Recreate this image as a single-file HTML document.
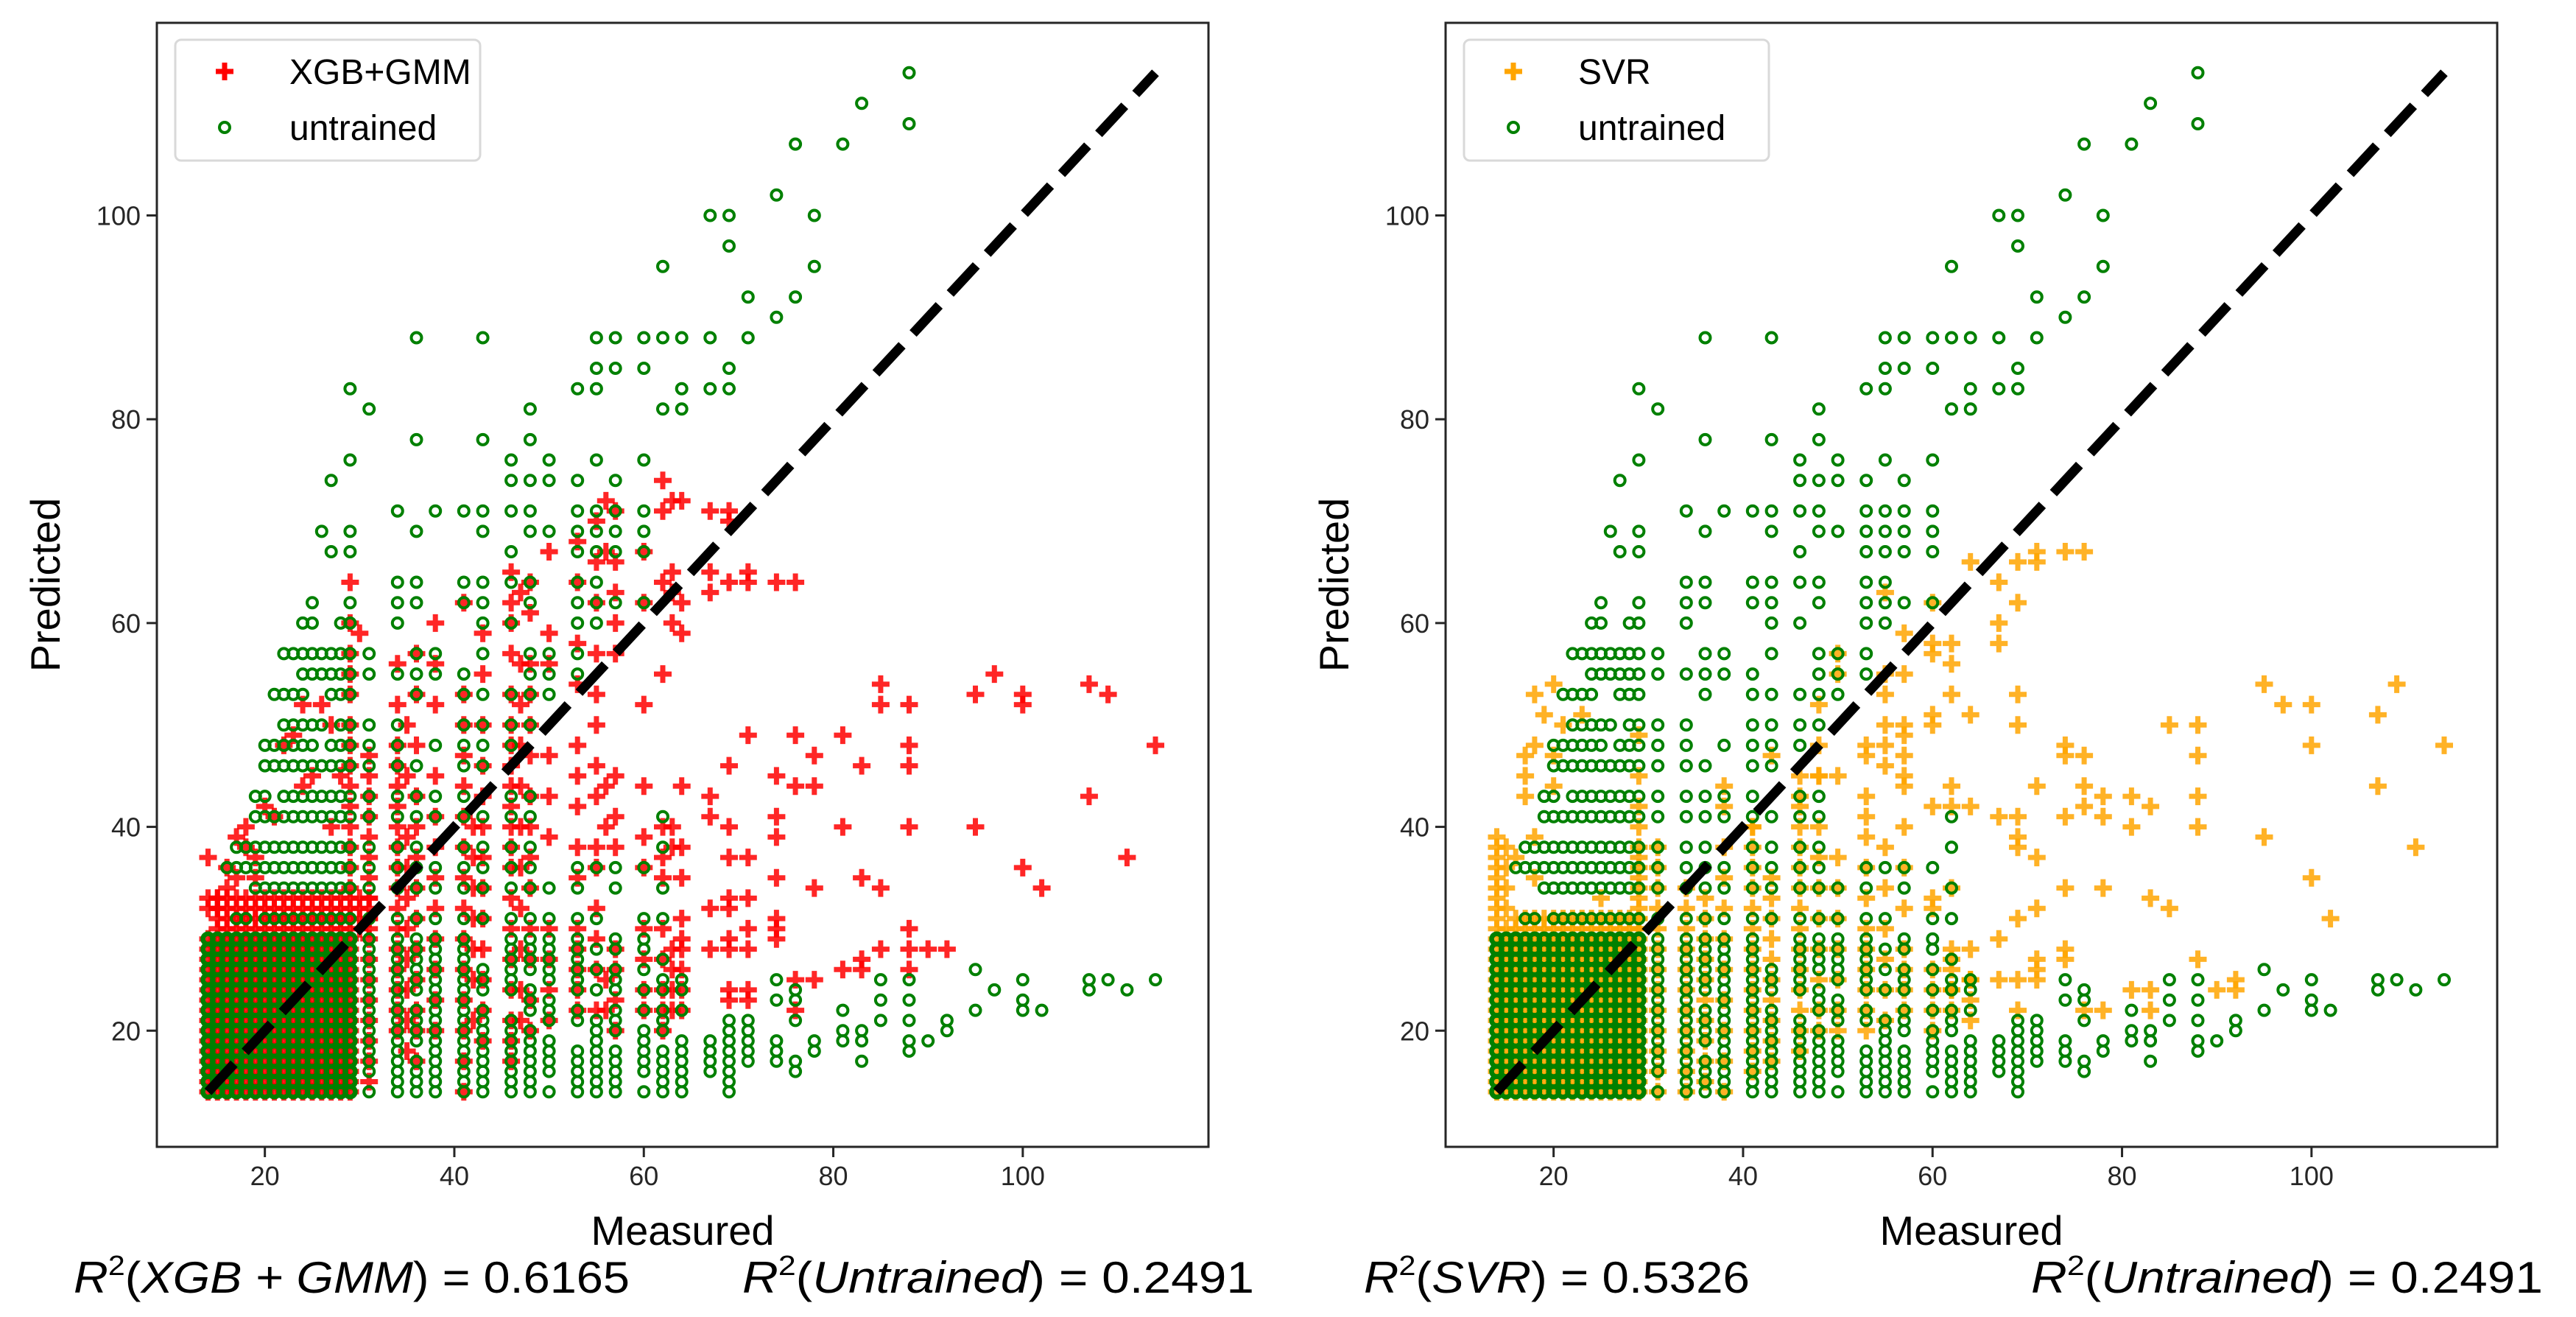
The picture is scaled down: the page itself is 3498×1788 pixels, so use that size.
<!DOCTYPE html>
<html><head><meta charset="utf-8"><style>
html,body{margin:0;padding:0;background:#fff;}
svg{display:block;font-family:"Liberation Sans","DejaVu Sans",sans-serif;}
</style></head><body>
<svg id="fig" width="3498" height="1788" viewBox="0 0 3498 1788" xmlns="http://www.w3.org/2000/svg">
<defs>
<clipPath id="clipL"><rect x="213" y="31" width="1428" height="1526"/></clipPath>
<clipPath id="clipR"><rect x="1963" y="31" width="1428" height="1526"/></clipPath>
</defs>
<g id="panelL"></g>
<g id="panelR"></g>
</svg>
<script>
// ---- data ----
const tickVals = [20, 40, 60, 80, 100];
const blockVals = [14,15,16,17,18,19,20,21,22,23,24,25,26,27,28,29];
const redBandYs = [30,31,32,33];
const redBandXs = [15,16,17,18,19,20,21,22,23,24,25,26,27,28,29,30,31];
const svrBandYs = [30,31];
const svrBandXs = [16,17,18,19,20,21,22,23,24,25,26,27,28,29];
// untrained: rows above block (y -> xs)
const untrainedUpRows = [
[31,[17,18,20,21,22,23,24,25,26,27,28,29,31,34,36,38,41,43,46,48,50,53,55,60,62]],
[34,[19,20,21,22,23,24,25,26,27,28,29,31,34,36,38,41,43,46,48,50,53,57,62]],
[36,[16,17,18,19,20,21,22,23,24,25,26,27,28,29,31,34,36,38,41,43,46,48,53,55,57,60]],
[38,[17,18,19,20,21,22,23,24,25,26,27,28,29,31,34,36,41,43,46,48,62]],
[41,[19,20,21,22,23,24,25,26,27,28,29,31,34,36,38,41,43,46,48,62]],
[43,[19,20,22,23,24,25,26,27,28,29,31,34,36,38,41,46,48]],
[46,[20,21,22,23,24,25,26,27,28,29,31,34,36,41,43]],
[48,[20,21,22,23,24,25,27,28,29,31,34,38,41,43,46]],
[50,[22,23,24,25,26,28,29,31,34,41,43,46,48]],
[53,[21,22,23,24,27,28,29,36,41,43,46,48,50]],
[55,[24,25,26,27,28,29,31,34,36,38,41,48,50,53]],
[57,[22,23,24,25,26,27,28,29,31,36,38,43,48,50,53]],
[60,[24,25,28,29,34,43,46,53,55]],
[62,[25,29,34,36,41,43,48,53,55,57,60]],
[64,[34,36,41,43,46,48,53,55]],
[67,[27,29,46,53,55,57,60]],
[69,[26,29,36,43,48,50,53,55,57,60]],
[71,[34,38,41,43,46,48,53,55,57,60]],
[74,[27,46,48,50,53,57]],
[76,[29,46,50,55,60]],
[78,[36,43,48]],
[81,[31,48,62,64]],
[83,[29,53,55,64,67,69]],
[85,[55,57,60,69]],
[88,[36,43,55,57,60,62,64,67,71]],
[90,[74]],[92,[71,76]],[95,[62,78]],[97,[69]],[100,[67,69,78]],
[102,[74]],[107,[76,81]],[109,[88]],[111,[83]],[114,[88]]
];
// untrained: columns below y=30 for x>=31 (x -> ys)
const untrainedLowCols = [
[31,[14,16,17,18,19,20,21,22,23,24,25,26,27,28,29]],
[34,[14,15,16,17,18,19,20,21,22,23,24,25,26,27,28,29]],
[36,[14,15,16,17,19,20,21,22,24,25,26,27,28,29]],
[38,[14,15,16,17,18,19,20,21,22,23,24,25,26,27,28,29]],
[41,[14,15,16,17,18,19,20,21,22,23,24,25,26,27,28,29]],
[43,[14,15,16,17,18,19,20,21,22,24,25,26]],
[46,[14,15,16,17,18,19,20,21,24,25,26,27,28,29]],
[48,[14,15,16,17,18,19,20,22,23,24,26,27,28,29]],
[50,[14,16,17,18,19,21,22,23,25,26,27,28,29]],
[53,[14,15,16,17,18,21,22,24,25,26,27,28,29]],
[55,[14,15,16,17,18,19,20,21,24,26,28]],
[57,[14,15,16,17,18,20,21,22,24,25,26,28,29]],
[60,[14,16,17,18,19,20,22,24,26,28,29]],
[62,[14,15,16,17,18,20,21,22,24,25,27]],
[64,[14,15,16,17,18,19,22,24,25]],
[67,[16,17,18,19]],
[69,[14,15,16,17,18,19,20,21]],
[71,[17,18,19,20,21]],
[74,[17,18,19,23,25]],
[76,[16,17,21,23,24]],
[78,[18,19]],[81,[19,20,22]],[83,[17,19,20]],[85,[21,23,25]],
[88,[18,19,21,23,25]],[90,[19]],[92,[20,21]],[95,[22,26]],[97,[24]],
[100,[22,23,25]],[102,[22]],[107,[24,25]],[109,[25]],[111,[24]],[114,[25]]
];
// XGB+GMM predictions
const xgbCols = [
[29,[34,36,38,40,42,44,46,48,50,53,55,57]],
[31,[15,17,19,21,23,25,27,29,31,33,35,37,39,41,43,45,47]],
[34,[20,22,24,26,28,30,32,34,36,38,40,42,44,46,48,52,56]],
[35,[18,21,24,27,30,33,36,39,45,50]],
[36,[17,20,22,25,28,31,34,37,40,43,48,53,57]],
[38,[20,23,26,29,32,35,38,41,45,52,56,60]],
[41,[14,17,20,23,26,29,32,35,38,41,44,47,50,53,62]],
[42,[21,25,28,31,34,37,40]],
[43,[19,22,25,28,31,34,37,40,43,46,50,55,59]],
[46,[17,19,21,24,27,30,33,36,38,40,42,44,46,48,50,53,57,60,62,65]],
[47,[21,24,28,32,36,40,44,48,52,56,63]],
[48,[20,23,27,30,34,37,40,43,47,50,53,56,61,64]],
[50,[21,24,27,30,39,43,47,56,59,67]],
[53,[22,24,26,28,30,35,38,42,45,48,54,58,64,68]],
[55,[22,26,29,32,36,38,43,46,50,53,57,62,66,70]],
[56,[22,25,40,44,67,72]],
[57,[20,23,26,28,38,41,45,57,60,63,66,71]],
[60,[22,24,27,30,36,39,44,52,62,67]],
[62,[20,22,24,27,30,35,37,40,55,64,71,74]],
[63,[22,24,26,28,38,40,60,63,65,72]],
[64,[22,24,26,28,29,31,35,38,44,59,62,72]]
];
const xgbPts = [
[14,37],[14,33],[14,32],[15,32],[15,33],[16,36],[16,34],[17,35],[17,39],[18,40],[18,38],[19,37],[19,35],
[20,42],[21,41],[22,48],[23,49],[24,44],[24,52],[25,45],[26,52],[27,50],[27,40],[28,45],[29,64],[29,60],[30,59],
[67,71],[69,71],[69,70],[67,65],[69,64],[71,65],[71,64],[74,64],[76,64],[67,63],
[85,54],[85,52],[88,52],[95,53],[97,55],[100,53],[100,52],[107,54],[109,53],[114,48],
[71,49],[76,49],[81,49],[78,47],[78,44],[83,46],[88,48],[88,46],[69,46],[74,45],[76,44],[67,43],[67,41],
[74,41],[74,39],[69,40],[81,40],[88,40],[95,40],[107,43],[69,37],[71,37],[111,37],[100,36],[102,34],
[74,35],[78,34],[83,35],[85,34],[67,32],[69,33],[69,32],[71,33],[74,31],[74,30],[74,29],[88,30],
[67,28],[69,29],[69,28],[71,30],[71,28],[85,28],[88,28],[88,26],[90,28],[92,28],[81,26],[83,27],[83,26],
[78,25],[76,25],[76,22],[69,24],[69,23],[71,24],[71,23]
];
// SVR predictions
const svrCols = [
[14,[30,31,32,33,34,35,36,37,38,39]],
[15,[30,32,34,36,38]],
[29,[30,31,32,33,34,35,36,37,38,40,42,45]],
[31,[14,16,18,20,22,24,26,28,30,32,34,36,38]],
[34,[14,16,18,20,22,24,26,28,30,32,34]],
[36,[15,17,19,21,23,25,27,29,31,33]],
[38,[14,17,20,23,26,29,32,35,38]],
[41,[16,18,20,22,24,26,28,30,32,34,36,38,40]],
[43,[17,19,21,23,25,27,29,31,33,35]],
[46,[18,20,22,24,26,28,30,32,34,36,38,40,42]],
[48,[20,22,25,28,31,34,37,40,45]],
[50,[20,22,25,28,31,34,37]],
[53,[20,22,24,26,28,30,33,36,39]],
[55,[21,24,27,30,34,38]],
[57,[22,24,26,28,32,36,40]],
[60,[20,22,24,26]],
[62,[22,24,26,28]],
[64,[21,23,25]]
];
const svrPts = [
[18,53],[20,54],[19,51],[23,51],[21,50],[18,48],[20,47],[17,47],[17,45],[20,44],[17,43],[18,39],[16,37],[18,35],[25,33],
[29,49],[64,66],[69,66],[71,67],[71,66],[74,67],[76,67],[67,64],[69,62],[55,63],[60,62],[57,59],[60,58],[62,58],[60,57],
[67,60],[67,58],[62,56],[50,57],[50,55],[55,55],[57,55],[55,53],[62,53],[69,53],[64,51],[55,50],[57,50],[60,51],[60,50],
[69,50],[53,48],[53,47],[55,48],[57,49],[57,47],[57,45],[55,46],[57,44],[48,52],[48,48],[50,45],[43,47],[46,45],[46,43],
[48,45],[38,44],[38,42],[41,40],[62,44],[60,42],[62,42],[64,42],[53,43],[53,41],[67,41],[69,41],[69,39],[69,38],[71,44],[71,37],
[74,48],[74,47],[76,47],[76,44],[76,42],[78,43],[78,41],[81,43],[83,42],[81,40],[74,41],[88,43],[88,40],[85,50],[88,50],[88,47],
[95,54],[97,52],[100,52],[100,48],[107,51],[109,54],[107,44],[114,48],[95,39],[111,38],[100,35],[102,31],
[74,34],[78,34],[83,33],[85,32],[69,31],[71,32],[60,33],[62,34],[60,32],[67,29],[64,28],[62,27],[74,28],[74,27],[71,27],[71,26],
[88,27],[92,25],[92,24],[90,24],[69,25],[67,25],[71,25],[69,22],[76,22],[78,22],[81,24],[83,24],[83,22],[64,25],[62,24]
];
const diagLine = [14, 114];

// ---- drawing ----
const NS = 'http://www.w3.org/2000/svg';
const XMIN = 8.6, XMAX = 119.6, YMIN = 8.6, YMAX = 118.9;
function mk(tag, attrs, parent){ const e = document.createElementNS(NS, tag); for (const k in attrs) e.setAttribute(k, attrs[k]); parent.appendChild(e); return e; }
const PLUS = 'M-12,-3.5h24v7h-24z M-3.5,-12h7v24h-7z';

function drawPanel(g, left, clipId, color, predCols, predPts, bandYs, bandXs, modelName, r2Model, r2Untrained, r2ModelLen, r2ModelX) {
  const right = left + 1428, top = 31, bottom = 1557;
  const sx = v => left + (v - XMIN) / (XMAX - XMIN) * (right - left);
  const sy = v => bottom - (v - YMIN) / (YMAX - YMIN) * (bottom - top);
  const data = mk('g', {'clip-path': 'url(#' + clipId + ')'}, g);
  
  
  const predG = mk('g', {fill: color, 'fill-opacity': '0.85'}, data);
  
  
  const addPlus = (x, y) => {
    const p = mk('path', {d: PLUS, transform: 'translate(' + sx(x).toFixed(1) + ',' + sy(y).toFixed(1) + ')'}, predG);
    
    
  };
  blockVals.forEach(x => blockVals.forEach(y => addPlus(x, y)));
  bandYs.forEach(y => bandXs.forEach(x => addPlus(x, y)));
  predCols.forEach(c => c[1].forEach(y => addPlus(c[0], y)));
  predPts.forEach(p => addPlus(p[0], p[1]));
  const untG = mk('g', {fill: 'none', stroke: '#008000', 'stroke-width': '4'}, data);
  
  
  const addCirc = (x, y, w) => {
    const c = mk('circle', {cx: sx(x).toFixed(1), cy: sy(y).toFixed(1), r: 7}, untG);
    if (w) c.setAttribute('stroke-width', w);
    
    
  };
  blockVals.forEach(x => blockVals.forEach(y => addCirc(x, y, 6.5)));
  untrainedUpRows.forEach(r => r[1].forEach(x => addCirc(x, r[0])));
  untrainedLowCols.forEach(c => c[1].forEach(y => addCirc(c[0], y)));
  const dl = mk('line', {x1: sx(diagLine[0]), y1: sy(diagLine[0]), x2: sx(diagLine[1]), y2: sy(diagLine[1]), stroke: '#000', 'stroke-width': 13, 'stroke-dasharray': '52 22'}, data);
  
  
  const fr = mk('rect', {x: left, y: top, width: right - left, height: bottom - top, fill: 'none', stroke: '#262626', 'stroke-width': 3}, g);
  
  
  tickVals.forEach(v => {
    const xt = mk('line', {x1: sx(v), y1: bottom, x2: sx(v), y2: bottom + 14, stroke: '#262626', 'stroke-width': 3}, g);
    
    
    const xl = mk('text', {x: sx(v), y: bottom + 52, 'text-anchor': 'middle', 'font-size': 36, fill: '#262626'}, g);
    xl.textContent = v;
    
    
    const yt = mk('line', {x1: left - 14, y1: sy(v), x2: left, y2: sy(v), stroke: '#262626', 'stroke-width': 3}, g);
    
    
    const yl = mk('text', {x: left - 22, y: sy(v) + 13, 'text-anchor': 'end', 'font-size': 36, fill: '#262626'}, g);
    yl.textContent = v;
    
    
  });
  const xt = mk('text', {x: (left + right) / 2, y: 1690, 'text-anchor': 'middle', 'font-size': 56, fill: '#000'}, g);
  xt.textContent = 'Measured';
  
  
  const yt = mk('text', {x: 0, y: 0, 'text-anchor': 'middle', 'font-size': 56, fill: '#000', transform: 'translate(' + (left - 132) + ',794) rotate(-90)'}, g);
  yt.textContent = 'Predicted';
  
  
  // legend
  const lg = mk('g', {}, g);
  
  
  mk('rect', {x: left + 25, y: 54, width: 414, height: 164, rx: 8, fill: '#fff', 'fill-opacity': 0.8, stroke: '#d9d9d9', 'stroke-width': 3}, lg);
  const lp = mk('path', {d: PLUS, fill: color, transform: 'translate(' + (left + 92) + ',97)'}, lg);
  
  
  const lc = mk('circle', {cx: left + 92, cy: 173, r: 7, fill: 'none', stroke: '#008000', 'stroke-width': 4}, lg);
  
  
  const lt1 = mk('text', {x: left + 180, y: 114, 'font-size': 48, fill: '#000'}, lg);
  lt1.textContent = modelName;
  
  
  const lt2 = mk('text', {x: left + 180, y: 190, 'font-size': 48, fill: '#000'}, lg);
  lt2.textContent = 'untrained';
  
  
  // R2 annotations
  const r1 = mk('text', {x: r2ModelX, y: 1755, 'font-size': 60, fill: '#000', textLength: r2ModelLen, lengthAdjust: 'spacingAndGlyphs'}, g);
  r1.innerHTML = '<tspan font-style="italic">R</tspan><tspan font-size="38" dy="-24">2</tspan><tspan dy="24">(</tspan><tspan font-style="italic">' + r2Model + '</tspan>) = 0.' + (modelName === 'SVR' ? '5326' : '6165');
  
  
  const r2 = mk('text', {x: left + 795, y: 1755, 'font-size': 60, fill: '#000', textLength: 695, lengthAdjust: 'spacingAndGlyphs'}, g);
  r2.innerHTML = '<tspan font-style="italic">R</tspan><tspan font-size="38" dy="-24">2</tspan><tspan dy="24">(</tspan><tspan font-style="italic">Untrained</tspan>) = ' + r2Untrained;
  
  
}
drawPanel(document.getElementById('panelL'), 213, 'clipL', '#ff0000', xgbCols, xgbPts, redBandYs, redBandXs, 'XGB+GMM', 'XGB + GMM', '0.2491', 755, 100);
drawPanel(document.getElementById('panelR'), 1963, 'clipR', '#ffa500', svrCols, svrPts, svrBandYs, svrBandXs, 'SVR', 'SVR', '0.2491', 524, 1852);
</script>
</body></html>
